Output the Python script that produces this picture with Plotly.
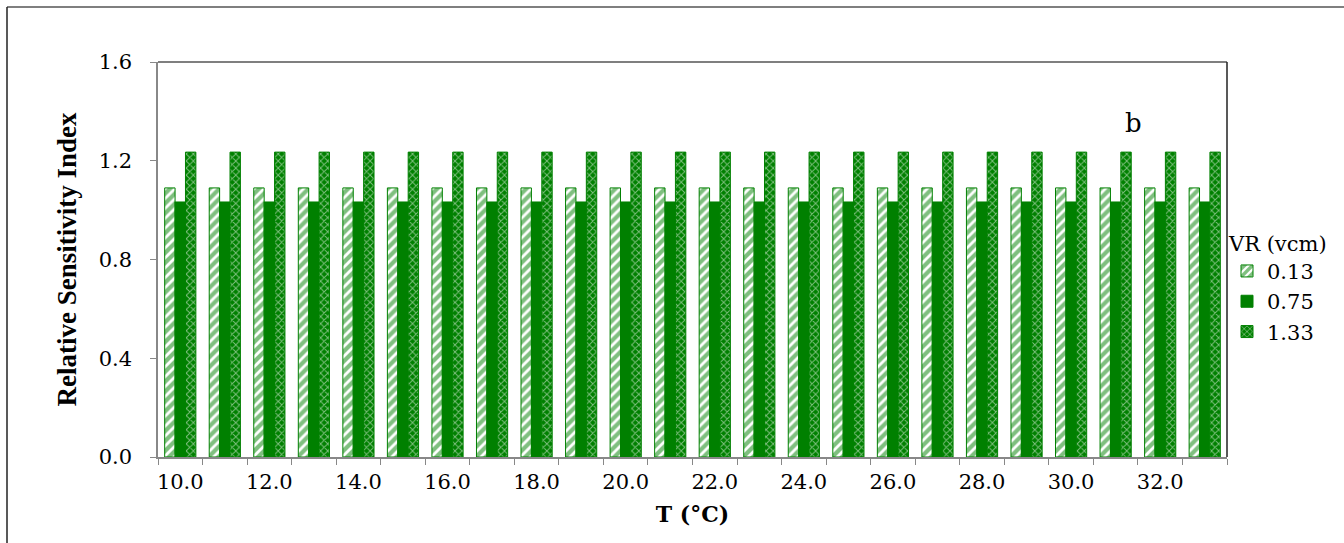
import plotly.graph_objects as go

# Temperature categories (°C) and relative sensitivity index per VR level
temps = [f"{t:.1f}" for t in range(10, 34)]
rsi_013 = [1.09] * 24
rsi_075 = [1.033] * 24
rsi_133 = [1.235] * 24
tick_text = [t if i % 2 == 0 else "" for i, t in enumerate(temps)]

GREEN = "#008000"
SERIF = "DejaVu Serif"
TITLE_SERIF = "Liberation Serif"

fig = go.Figure()
fig.add_bar(
    x=temps, y=rsi_013, name="0.13",
    marker=dict(color="white", line=dict(color=GREEN, width=1),
                pattern=dict(shape="/", fgcolor=GREEN, bgcolor="white",
                             size=7, solidity=0.6, fillmode="overlay")),
)
fig.add_bar(
    x=temps, y=rsi_075, name="0.75",
    marker=dict(color=GREEN, line=dict(color=GREEN, width=1)),
)
fig.add_bar(
    x=temps, y=rsi_133, name="1.33",
    marker=dict(color=GREEN, line=dict(color=GREEN, width=1),
                pattern=dict(shape="x", fgcolor="white", bgcolor=GREEN,
                             size=5, solidity=0.35, fillmode="overlay")),
)

L, R, T, B = 158, 117, 62, 86
W, H = 1344, 543
pw, ph = W - L - R, H - T - B


def px(x):
    return (x - L) / pw


def py(y):
    return (H - B - y) / ph


fig.update_layout(
    width=W, height=H,
    margin=dict(l=L, r=R, t=T, b=B),
    paper_bgcolor="white", plot_bgcolor="white",
    barmode="group", bargap=0.3, bargroupgap=0,
    font=dict(family=SERIF, size=21, color="black"),
    legend=dict(
        title=dict(text="VR (vcm)", font=dict(family=SERIF, size=21)),
        x=1.0, xanchor="left", y=py(288), yanchor="middle",
        font=dict(family=SERIF, size=21),
        itemwidth=30, tracegroupgap=8,
        bgcolor="rgba(0,0,0,0)",
    ),
    xaxis=dict(
        type="category",
        tickmode="array", tickvals=temps, ticktext=tick_text,
        tickson="boundaries", ticks="outside", ticklen=6, tickangle=0,
        tickcolor="#888", showline=True, linecolor="#888", linewidth=1.5,
        showgrid=False, ticklabelstandoff=5, automargin=False,
        title=dict(text="<b>T (°C)</b>", font=dict(family=SERIF, size=22),
                   standoff=14),
        tickfont=dict(family=SERIF, size=21),
    ),
    yaxis=dict(
        range=[0, 1.6], tickvals=[0, 0.4, 0.8, 1.2, 1.6],
        tickformat=".1f", ticks="outside", ticklen=6, tickcolor="#888",
        showline=True, linecolor="#888", linewidth=1.5,
        showgrid=False, zeroline=False, ticklabelstandoff=14,
        automargin=False,
        title=dict(text="<b>Relative Sensitivity Index</b>",
                   font=dict(family=TITLE_SERIF, size=27), standoff=14),
        tickfont=dict(family=SERIF, size=21),
    ),
    annotations=[
        dict(text="b", x=px(1133), y=py(123), xref="paper", yref="paper",
             xanchor="center", yanchor="middle",
             showarrow=False, font=dict(family=SERIF, size=26)),
    ],
    shapes=[
        # top and right borders of the plot area
        dict(type="line", xref="paper", yref="paper", x0=0, x1=1, y0=1, y1=1,
             line=dict(color="#555", width=1.5)),
        dict(type="line", xref="paper", yref="paper", x0=1, x1=1, y0=0, y1=1,
             line=dict(color="#222", width=1.5)),
        # outer chart frame
        dict(type="line", xref="paper", yref="paper",
             x0=px(7), x1=px(W + 5), y0=py(7), y1=py(7),
             line=dict(color="#555", width=1.5)),
        dict(type="line", xref="paper", yref="paper",
             x0=px(7), x1=px(7), y0=py(7), y1=py(H + 5),
             line=dict(color="#222", width=1.5)),
    ],
)

fig.write_html("out.html")
